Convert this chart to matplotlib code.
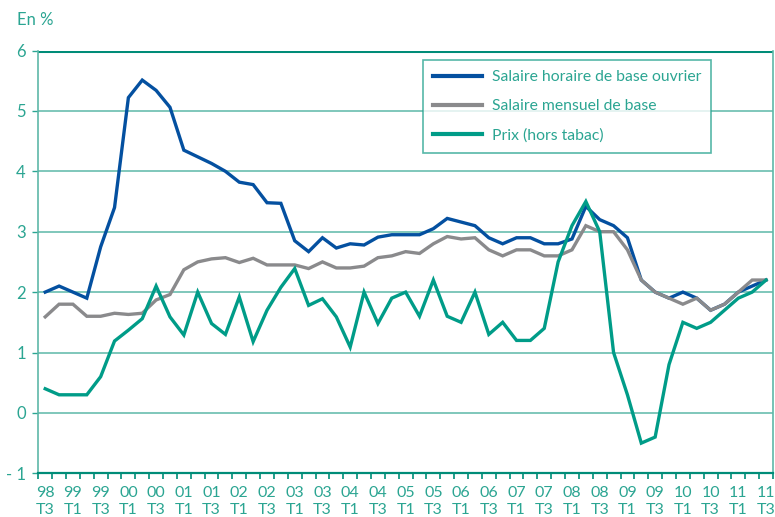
import matplotlib
matplotlib.use("Agg")
import matplotlib.pyplot as plt
import numpy as np

# quarters 98T3 -> 11T3
years = ["98", "99", "00", "01", "02", "03", "04", "05", "06", "07", "08", "09", "10", "11"]
quarters = [(y, q) for y in years for q in ["T1", "T2", "T3", "T4"]][2:-1]

salaire_horaire = [2.0, 2.1, 2.0, 1.9, 2.75, 3.4, 5.22, 5.51, 5.34, 5.06,
                   4.35, 4.24, 4.13, 4.0, 3.82, 3.78, 3.48, 3.47, 2.85, 2.67,
                   2.9, 2.73, 2.8, 2.78, 2.91, 2.95, 2.95, 2.95, 3.05, 3.22,
                   3.16, 3.1, 2.9, 2.8, 2.9, 2.9, 2.8, 2.8, 2.88, 3.42,
                   3.2, 3.1, 2.9, 2.2, 2.0, 1.9, 2.0, 1.9, 1.7, 1.8,
                   2.0, 2.1, 2.2]
salaire_mensuel = [1.59, 1.8, 1.8, 1.6, 1.6, 1.65, 1.63, 1.65, 1.87, 1.96,
                   2.37, 2.5, 2.55, 2.57, 2.49, 2.56, 2.45, 2.45, 2.45, 2.39,
                   2.5, 2.4, 2.4, 2.43, 2.57, 2.6, 2.67, 2.64, 2.8, 2.92,
                   2.88, 2.9, 2.7, 2.6, 2.7, 2.7, 2.6, 2.6, 2.7, 3.1,
                   3.0, 3.0, 2.7, 2.2, 2.0, 1.9, 1.8, 1.9, 1.7, 1.8,
                   2.0, 2.2, 2.2]
prix = [0.4, 0.3, 0.3, 0.3, 0.6, 1.19, 1.37, 1.56, 2.1, 1.59,
        1.29, 2.0, 1.48, 1.3, 1.92, 1.18, 1.7, 2.08, 2.39, 1.78,
        1.89, 1.59, 1.09, 2.0, 1.48, 1.9, 2.0, 1.6, 2.2, 1.6,
        1.5, 2.0, 1.3, 1.5, 1.2, 1.2, 1.4, 2.5, 3.1, 3.5,
        3.0, 1.0, 0.3, -0.5, -0.4, 0.8, 1.5, 1.4, 1.5, 1.7,
        1.9, 2.0, 2.2]

labels = ["Salaire horaire de base ouvrier", "Salaire mensuel de base", "Prix (hors tabac)"]
colors = ["#0450A0", "#8A8A8C", "#009C88"]

teal = "#2BA592"
dark_teal = "#008C78"
grid_teal = "#5DB8A8"

plt.rcParams['font.family'] = ['Lato', 'DejaVu Sans']

fig = plt.figure(figsize=(7.75, 5.17), dpi=100)
ax = fig.add_axes([0.0494, 0.0845, 0.948, 0.8178])

x = np.arange(len(quarters))
for vals, lab, c in zip([salaire_horaire, salaire_mensuel, prix], labels, colors):
    ax.plot(x, vals, color=c, lw=2.4, label=lab, solid_joinstyle="miter", zorder=3)

ax.set_xlim(-0.5, len(quarters) - 0.5)
ax.set_ylim(-1, 6)

ax.set_yticks(range(-1, 7))
ax.set_yticklabels(["- 1"] + [str(v) for v in range(0, 7)])
for v in range(0, 6):
    ax.axhline(v, color=grid_teal, lw=1.1, zorder=1)
ax.axhline(6, color=dark_teal, lw=2.2, zorder=2)

ax.set_xticks(x[::2])
ax.set_xticklabels([y + "\n" + q for y, q in quarters[::2]])
ax.set_xticks(np.arange(-0.5, len(quarters), 1.0), minor=True)

for s in ["left", "right"]:
    ax.spines[s].set_color(grid_teal)
    ax.spines[s].set_linewidth(1.2)
ax.spines["top"].set_visible(False)
ax.spines["bottom"].set_color(dark_teal)
ax.spines["bottom"].set_linewidth(1.6)

ax.tick_params(axis="x", which="major", length=0, pad=9, labelsize=11.5, labelcolor=teal)
ax.tick_params(axis="x", which="minor", length=4, width=1.2, color=dark_teal, direction="out")
ax.tick_params(axis="y", length=4, width=1.0, color=teal, pad=5, labelsize=12, labelcolor=teal)
for t in ax.get_xticklabels():
    t.set_linespacing(1.3)

leg = ax.legend(loc="upper left", bbox_to_anchor=(0.524, 0.9775), frameon=True, fancybox=False,
                edgecolor=teal, fontsize=11.3, handlelength=3.1, labelspacing=0.95,
                borderpad=0.65, handletextpad=0.6, borderaxespad=0)
leg.get_frame().set_linewidth(1.2)
for t in leg.get_texts():
    t.set_color(teal)
for h in leg.get_lines():
    h.set_linewidth(3)

fig.text(0.022, 0.962, "En %", color=teal, fontsize=12, va="center")

fig.savefig("out.png", dpi=100)
